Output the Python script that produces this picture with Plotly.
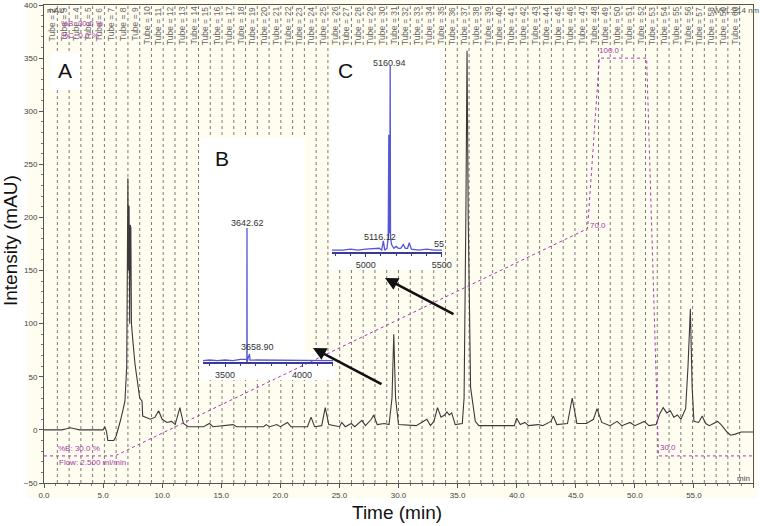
import plotly.graph_objects as go

# ---------------- data ----------------
time_min = [0, 1.5, 1.9, 2.2, 2.6, 3.0, 5.0, 5.15, 5.3, 5.4, 5.9, 6.1, 6.5, 6.85, 7.0, 7.05, 7.1, 7.15, 7.2, 7.25,
            7.3, 7.35, 7.4, 7.5, 7.55, 7.7, 7.9, 8.1, 8.3, 8.35, 8.6, 9.0, 9.4, 9.7, 10.0, 10.4, 10.8, 11.1, 11.5,
            11.8, 12.2, 13.5, 14.0, 14.3, 16.0, 16.3, 18.6, 18.8, 19.1, 19.7, 20.0, 20.6, 20.9, 22.3, 22.6, 22.9,
            23.5, 23.8, 24.1, 25.0, 25.2, 25.5, 26.0, 26.3, 26.9, 27.2, 27.7, 27.9, 28.2, 28.8, 29.2, 29.45, 29.6,
            29.75, 30.0, 31.5, 32.4, 32.7, 33.0, 33.3, 33.6, 33.9, 34.1, 34.3, 34.5, 34.8, 35.4, 35.55, 35.7, 35.8,
            35.9, 36.1, 36.5, 36.8, 39.8, 40.0, 40.3, 40.7, 41.0, 41.8, 42.2, 42.9, 43.1, 43.4, 44.3, 44.7, 45.1,
            45.9, 46.5, 46.8, 47.2, 47.9, 48.5, 48.9, 49.6, 50.0, 50.8, 51.2, 51.8, 52.1, 52.4, 52.7, 53.0, 53.3,
            53.6, 53.9, 54.3, 54.5, 54.7, 54.85, 55.0, 55.4, 55.7, 56.0, 56.3, 57.0, 57.3, 57.8, 58.1, 58.5, 59.0,
            60.0]
intensity_mau = [0, 0, 1, 2, 1, 0, 0, 3, -2, -10, -10, -6, 10, 27, 60, 150, 237, 150, 211, 100,
                 193, 190, 100, 90, 80, 62, 45, 30, 27, 13, 12, 10, 12, 18, 10, 7, 8, 5, 21,
                 6, 3, 3, 6, 3, 5, 3, 3, 5, 3, 5, 3, 7, 3, 3, 12, 3,
                 4, 21, 5, 3, 7, 3, 6, 3, 9, 4, 10, 14, 5, 6, 5, 30, 90,
                 30, 5, 4, 10, 4, 8, 21, 12, 14, 17, 14, 16, 5, 6, 30, 200, 357,
                 200, 40, 8, 4, 4, 11, 5, 7, 4, 5, 4, 8, 13, 5, 6, 30, 6,
                 6, 10, 20, 7, 4, 8, 4, 7, 4, 8, 4, 5, 15, 21, 16, 18, 12,
                 14, 10, 20, 60, 114, 40, 8, 7, 13, 6, 4, 8, 5, -2, -5, -4, -2,
                 -2]

grad_time = [0, 6, 46, 47, 51, 52, 60]
grad_pct_b = [30, 30, 70, 100, 100, 30, 30]

tube_numbers = list(range(2, 61))
FRACTION_START_MIN = 1.13     # first fraction boundary
FRACTION_WIDTH_MIN = 0.9955   # fraction collector interval

ms_b_mz = [3357, 3400, 3450, 3500, 3550, 3600, 3640, 3641.8, 3642.62, 3643.5, 3650, 3658.9, 3662, 3700, 3750,
           3800, 3900, 4000, 4100, 4201]
ms_b_int = [1, 1.5, 1, 1.5, 1, 2, 2, 0, 100, 0, 3, 6, 1.5, 1.5, 1, 1.5, 1, 1, 1, 1]

ms_c_mz = [4779, 4850, 4900, 4950, 5000, 5050, 5090, 5105, 5116.12, 5125, 5140, 5148, 5152, 5156, 5158, 5160.94,
           5163, 5170, 5185, 5200, 5215, 5230, 5247, 5260, 5275, 5286, 5300, 5350, 5400, 5450, 5501]
ms_c_int = [1, 1, 1.5, 1, 1.5, 2, 2, 1, 6, 1, 2, 8, 63, 10, 20, 100, 8, 4, 2, 3, 2, 2, 4, 2, 2, 5, 1.5, 1,
            1.5, 1, 1]

x_ticks = [0, 5, 10, 15, 20, 25, 30, 35, 40, 45, 50, 55, 60]
y_ticks = [-50, 0, 50, 100, 150, 200, 250, 300, 350, 400]

# ---------------- geometry helpers (pixel -> paper) ----------------
L, R, T, B = 44, 7, 5, 43
W, H = 760, 526
PW, PH = W - L - R, H - T - B


def px(x):
    return (x - L) / PW


def py(y):
    return (H - B - y) / PH


CREAM = "#fffdf0"
PURPLE = "#a83aa8"
BLUE = "#5656d8"

fig = go.Figure()

fig.add_trace(go.Scatter(x=time_min, y=intensity_mau, mode="lines",
                         line=dict(color="#3a3a3a", width=1.1), xaxis="x", yaxis="y",
                         hoverinfo="skip", showlegend=False))
fig.add_trace(go.Scatter(x=grad_time, y=grad_pct_b, mode="lines",
                         line=dict(color=PURPLE, width=1, dash="dot"), xaxis="x", yaxis="y4",
                         hoverinfo="skip", showlegend=False))
fig.add_trace(go.Scatter(x=ms_b_mz, y=ms_b_int, mode="lines",
                         line=dict(color=BLUE, width=1.3), xaxis="x2", yaxis="y2",
                         hoverinfo="skip", showlegend=False))
fig.add_trace(go.Scatter(x=ms_c_mz, y=ms_c_int, mode="lines",
                         line=dict(color=BLUE, width=1.3), xaxis="x3", yaxis="y3",
                         hoverinfo="skip", showlegend=False))

shapes = []
# cream panel
shapes.append(dict(type="rect", xref="paper", yref="paper", x0=px(27), x1=px(757), y0=py(498), y1=py(0),
                   fillcolor=CREAM, line=dict(width=0), layer="below"))
# tube divider lines
boundaries = [FRACTION_START_MIN + i * FRACTION_WIDTH_MIN for i in range(len(tube_numbers))]
for b in boundaries:
    shapes.append(dict(type="line", xref="x", yref="paper", x0=b, x1=b, y0=0, y1=1,
                       line=dict(color="#7a7a7a", width=1, dash="dot"), layer="below"))
# white inset boxes
for (x0, x1, y0, y1) in [(50, 80, 53, 90), (200, 305, 138, 380), (200, 335, 352, 380), (330, 442, 48, 270)]:
    shapes.append(dict(type="rect", xref="paper", yref="paper", x0=px(x0), x1=px(x1), y0=py(y1), y1=py(y0),
                       fillcolor="white", line=dict(width=0), layer="below"))

annotations = []
for n, b in zip(tube_numbers, boundaries):
    annotations.append(dict(text=f"Tube = {n}", x=b - 0.42, y=py(5), xref="x", yref="paper",
                            textangle=-90, xanchor="center", yanchor="top", showarrow=False,
                            font=dict(size=8.5, color="#666", family="Liberation Sans")))


def txt(s, x, y, size=8, color="#444", xanchor="left", yanchor="middle", family="Liberation Sans"):
    annotations.append(dict(text=s, x=px(x), y=py(y), xref="paper", yref="paper", showarrow=False,
                            xanchor=xanchor, yanchor=yanchor, font=dict(size=size, color=color, family=family)))


txt("mAU", 45, 10, 8, "#444")
txt("WVL:214 nm", 711, 10, 8, "#555")
txt("%B: 30.0 %", 59, 23, 8, PURPLE)
txt("%C: 0.0 %", 59, 35, 8, PURPLE)
txt("%B: 30.0 %", 56, 448, 8, PURPLE)
txt("Flow: 2.500 ml/min", 57, 462, 8, PURPLE)
txt("70.0", 588, 226, 8, PURPLE)
txt("100.0", 597, 50, 8, PURPLE)
txt("30.0", 658, 447, 8, PURPLE)
txt("min", 752, 478, 8, "#444", xanchor="right")

txt("A", 65, 71, 21, "#111", xanchor="center", family="Liberation Sans")
txt("B", 222, 158, 21, "#111", xanchor="center", family="Liberation Sans")
txt("C", 345, 70, 21, "#111", xanchor="center", family="Liberation Sans")

# MS peak labels
txt("3642.62", 247, 223, 9, "#333", xanchor="center")
txt("3658.90", 257, 347, 9, "#333", xanchor="center")
txt("5160.94", 389, 63, 9, "#333", xanchor="center")
txt("5116.12", 380, 237, 9, "#333", xanchor="center")
txt("55", 432, 244, 9, "#333", xanchor="left")

# axis titles
txt("Time (min)", 397, 512, 19, "#111", xanchor="center")
annotations.append(dict(text="Intensity (mAU)", x=px(11), y=py(241), xref="paper", yref="paper",
                        showarrow=False, textangle=-90, xanchor="center", yanchor="middle",
                        font=dict(size=19, color="#111", family="Liberation Sans")))

# arrows
for (hx, hy, tx, ty) in [(313, 348, 383, 385), (385, 278, 455, 315)]:
    annotations.append(dict(text="", x=px(hx), y=py(hy), xref="paper", yref="paper",
                            ax=tx - hx, ay=ty - hy, axref="pixel", ayref="pixel", showarrow=True,
                            arrowhead=2, arrowsize=1.0, arrowwidth=2.6, arrowcolor="#111"))

fig.update_layout(
    width=W, height=H,
    margin=dict(l=L, r=R, t=T, b=B, autoexpand=False),
    paper_bgcolor="white",
    plot_bgcolor="rgba(0,0,0,0)",
    showlegend=False,
    hovermode=False,
    shapes=shapes,
    annotations=annotations,
    font=dict(family="Liberation Sans", size=8, color="#444"),
    xaxis=dict(range=[0, 60], domain=[0, 1], tickvals=x_ticks, tickformat=".1f", ticks="outside",
               ticklen=4, tickcolor="#555", showline=True, linecolor="#555", linewidth=1, mirror=True,
               showgrid=False, zeroline=False, tickfont=dict(size=8, color="#444"), automargin=False,
               minor=dict(dtick=1, ticks="outside", ticklen=2, tickcolor="#777")),
    yaxis=dict(range=[-50, 400], domain=[0, 1], tickvals=y_ticks, ticks="outside", ticklen=4,
               tickcolor="#555", showline=True, linecolor="#555", linewidth=1, mirror=True,
               showgrid=False, zeroline=False, tickfont=dict(size=8, color="#444"), automargin=False,
               minor=dict(dtick=10, ticks="outside", ticklen=2, tickcolor="#777")),
    yaxis4=dict(range=[(-50 + 185) / 5.35, (400 + 185) / 5.35], overlaying="y", visible=False,
                automargin=False),
    xaxis2=dict(domain=[px(203), px(333)], anchor="y2", range=[3357, 4201], tickvals=[3500, 4000],
                ticks="outside", ticklen=3, tickcolor="#3a3a9a", showline=True, linecolor="#3a3a9a",
                linewidth=2, showgrid=False, zeroline=False, tickfont=dict(size=9, color="#333"),
                automargin=False,
                minor=dict(dtick=100, ticks="outside", ticklen=2, tickcolor="#3a3a9a")),
    yaxis2=dict(domain=[py(362), py(218)], anchor="x2", range=[0, 107.5], visible=False, automargin=False),
    xaxis3=dict(domain=[px(332), px(442)], anchor="y3", range=[4779, 5501], tickvals=[5000, 5500],
                ticks="outside", ticklen=3, tickcolor="#3a3a9a", showline=True, linecolor="#3a3a9a",
                linewidth=2, showgrid=False, zeroline=False, tickfont=dict(size=9, color="#333"),
                automargin=False,
                minor=dict(dtick=100, ticks="outside", ticklen=2, tickcolor="#3a3a9a")),
    yaxis3=dict(domain=[py(252), py(52)], anchor="x3", range=[0, 107.5], visible=False, automargin=False),
)

fig.write_html("out.html", config={"displayModeBar": False, "staticPlot": True},
               post_script="document.body.style.margin='0';document.body.style.overflow='hidden';")
